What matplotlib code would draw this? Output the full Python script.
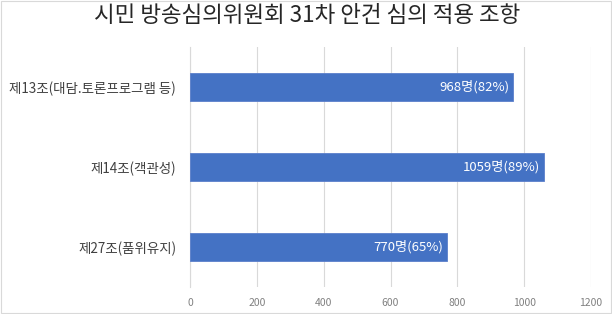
import matplotlib.pyplot as plt
from matplotlib.patches import Rectangle

plt.rcParams['font.family'] = ['Noto Sans CJK KR', 'DejaVu Sans']

categories = ["제13조(대담.토론프로그램 등)", "제14조(객관성)", "제27조(품위유지)"]
counts = [968, 1059, 770]
percents = [82, 89, 65]
xticks = [0, 200, 400, 600, 800, 1000, 1200]

fig = plt.figure(figsize=(6.12, 3.14), dpi=100)
ax = fig.add_axes([190/612, 27/314, 401/612, 240/314])

ypos = list(range(len(categories)))
bars = ax.barh(ypos, counts, height=0.36, color="#4472C4", edgecolor="#5B7FCB", linewidth=0.6, zorder=3)
ax.set_ylim(len(categories) - 0.5, -0.5)
ax.set_xlim(0, 1200)
ax.set_yticks(ypos)
ax.set_yticklabels(categories, fontsize=9.7, color="#404040")
ax.set_xticks(xticks)
ax.set_xticklabels([str(t) for t in xticks], fontsize=7.5, color="#808080")
ax.tick_params(axis="both", length=0)
ax.tick_params(axis="x", pad=8)
ax.tick_params(axis="y", pad=10)
ax.grid(axis="x", color="#D9D9D9", linewidth=0.8, zorder=0)
for s in ["top", "right", "bottom"]:
    ax.spines[s].set_visible(False)
ax.spines["left"].set_color("#D9D9D9")

for b, c, p in zip(bars, counts, percents):
    ax.text(c - 12, b.get_y() + b.get_height() / 2, f"{c}명({p}%)",
            ha="right", va="center", color="white", fontsize=9.5, zorder=4)

fig.text(307/612, 1 - 16/314, "시민 방송심의위원회 31차 안건 심의 적용 조항",
         ha="center", va="center", fontsize=16.2, color="#262626")
fig.patches.append(Rectangle((0.002, 0.003), 0.996, 0.994, transform=fig.transFigure,
                             fill=False, edgecolor="#D9D9D9", linewidth=0.8))

fig.savefig("out.png", dpi=100)
